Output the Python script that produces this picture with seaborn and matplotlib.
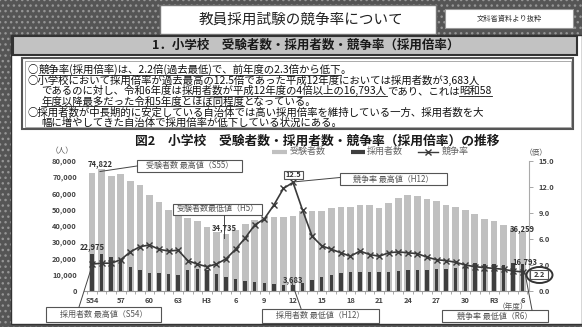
import numpy as np
import pandas as pd
import matplotlib
matplotlib.use("Agg")
import matplotlib.pyplot as plt
from matplotlib.patches import Rectangle, Ellipse
import seaborn as sns

# ---------------- data ----------------
years = (["S%d" % y for y in range(54, 64)] +
         ["H%d" % y for y in range(1, 31)] +
         ["R%d" % y for y in range(1, 7)])
applicants = [72700, 74822, 70500, 71600, 67800, 64800, 59000, 54700, 50000, 46500,
              45000, 43000, 39500, 36500, 34735, 37500, 41000, 43500, 45000, 45400,
              45600, 46156, 49000, 49000, 49400, 50700, 51300, 51700, 52500, 52500,
              51000, 54000, 57000, 58700, 58200, 56500, 55200, 53100, 51600, 50000,
              47000, 44200, 43000, 40400, 38952, 36259]
hired = [22975, 22500, 21000, 19800, 14800, 12600, 10800, 11000, 10200, 9900,
         13000, 13300, 13000, 10300, 8800, 7200, 6200, 5300, 4700, 4200,
         3900, 3683, 4700, 7000, 8600, 9600, 10800, 11900, 11400, 11400,
         11400, 11500, 12200, 12800, 12800, 12900, 13400, 13800, 14300, 14900,
         17000, 16700, 16400, 16200, 17034, 16793]
rate = [3.1, 3.2, 3.2, 3.6, 4.5, 5.1, 5.3, 4.8, 4.6, 4.7,
        3.5, 3.1, 2.8, 3.1, 3.7, 4.8, 6.1, 7.6, 8.3, 9.9,
        11.8, 12.5, 9.3, 6.3, 5.2, 4.8, 4.4, 4.0, 4.6, 4.2,
        4.0, 4.4, 4.5, 4.4, 4.3, 3.9, 3.6, 3.5, 3.3, 3.0,
        2.8, 2.7, 2.6, 2.5, 2.3, 2.2]
tick_labels = ["S54", "57", "60", "63", "H3", "6", "9", "12", "15", "18",
               "21", "24", "27", "30", "R3", "6"]
left_ticks = list(range(0, 80001, 10000))
right_ticks = [0.0, 3.0, 6.0, 9.0, 12.0, 15.0]

df = pd.DataFrame({"year": years, "applicants": applicants, "hired": hired,
                   "rate": rate, "idx": np.arange(len(years))})

# ---------------- figure ----------------
W, H = 582, 327
plt.rcParams["font.family"] = ["Noto Sans CJK JP", "DejaVu Sans"]
plt.rcParams["hatch.linewidth"] = 1.0
fig = plt.figure(figsize=(W / 100, H / 100), dpi=100)

def px_axes(z):
    a = fig.add_axes([0, 0, 1, 1])
    a.set_xlim(0, W)
    a.set_ylim(H, 0)
    a.axis("off")
    a.set_zorder(z)
    return a

bg = px_axes(0)
fg = px_axes(10)

# page background (dotted dark frame)
bg.add_patch(Rectangle((0, 0), W, H, facecolor="#555555", hatch="...",
                       edgecolor="#959595", linewidth=0))
bg.add_patch(Rectangle((11, 35), W - 11, 289, facecolor="white",
                       edgecolor="#333333", linewidth=1.0))
# title boxes
bg.add_patch(Rectangle((160, 4.5), 276, 29.5, facecolor="white",
                       edgecolor="#777777", linewidth=1.0))
bg.add_patch(Rectangle((445, 9), 128, 19, facecolor="white",
                       edgecolor="#999999", linewidth=0.8))
fg.text(301, 20, "教員採用試験の競争率について", fontsize=10.5, ha="center",
        va="center", color="#222222")
fg.text(509, 18.5, "文科省資料より抜粋", fontsize=5.2, ha="center",
        va="center", color="#333333")
# section header
bg.add_patch(Rectangle((13, 36), 564, 19, facecolor="#c2c2c2",
                       edgecolor="#333333", linewidth=1.5))
fg.text(306, 45.5, "1．小学校　受験者数・採用者数・競争率（採用倍率）",
        fontsize=9, fontweight="bold", ha="center", va="center", color="#1a1a1a")

# bullet box
bg.add_patch(Rectangle((22, 58), 551, 71, facecolor="white",
                       edgecolor="#555555", linewidth=1.5))
bg.add_patch(Rectangle((24.5, 60.5), 546, 66, facecolor="none",
                       edgecolor="#888888", linewidth=0.5))

renderer = fig.canvas.get_renderer()

def rich_line(x, yc, pieces, fs=7.5):
    yb = yc + 3.8
    for seg, ul in pieces:
        t = fg.text(x, yb, seg, fontsize=fs, ha="left", va="baseline",
                    color="#111111")
        bb = t.get_window_extent(renderer=renderer)
        x1 = bb.x1
        if ul:
            fg.plot([x, x1], [yb + 1.4, yb + 1.4], color="#111111", lw=0.6)
        x = x1

rich_line(28, 69.5, [("○", False),
                     ("競争率(採用倍率)は、2.2倍(過去最低)で、前年度の2.3倍から低下", True),
                     ("。", False)])
rich_line(28, 80.0, [("○小学校において採用倍率が過去最高の12.5倍であった平成12年度においては採用者数が3,683人", False)])
rich_line(41, 90.5, [("であるのに対し、令和6年度は", False),
                     ("採用者数が平成12年度の4倍以上の16,793人", True),
                     ("であり、これは", False), ("昭和58", True)])
rich_line(41, 101.0, [("年度以降最多だった令和5年度とほぼ同程度", True),
                      ("となっている。", False)])
rich_line(28, 111.5, [("○採用者数が中長期的に安定している自治体では高い採用倍率を維持している一方、採用者数を大", False)])
rich_line(41, 122.0, [("幅に増やしてきた自治体で採用倍率が低下している状況にある。", False)])

# chart title
fg.text(317, 141.5, "図2　小学校　受験者数・採用者数・競争率（採用倍率）の推移",
        fontsize=9.2, fontweight="bold", ha="center", va="center", color="#1a1a1a")

# ---------------- chart ----------------
L, R, T, B = 83.9, 529.0, 160.7, 291.0
ax = fig.add_axes([L / W, (H - B) / H, (R - L) / W, (B - T) / H])
ax.set_zorder(5)
ax.patch.set_alpha(0)

light, dark = "#c0c0c0", "#3f3f3f"
sns.barplot(data=df, x="year", y="applicants", order=years, color=light,
            width=0.7, saturation=1, errorbar=None, linewidth=0, ax=ax)
sns.barplot(data=df, x="year", y="hired", order=years, color=dark,
            width=0.36, saturation=1, errorbar=None, linewidth=0, ax=ax)

ax2 = ax.twinx()
ax2.set_zorder(6)
sns.lineplot(data=df, x="idx", y="rate", ax=ax2, color="#3a3a3a", lw=1.2,
             marker="x", markersize=4.2, markeredgewidth=1.0,
             markeredgecolor="#3a3a3a")

ax.set_xlim(-0.85, 45.66)
ax.set_ylim(0, 80000)
ax2.set_ylim(0, 15)

ax.set_xticks(np.arange(0, len(years), 3))
ax.set_xticklabels(tick_labels)
ax.set_xticks(np.arange(-0.5, len(years), 1), minor=True)
ax.tick_params(axis="x", which="major", length=0, pad=4, labelsize=5.4,
               labelcolor="#444444")
ax.tick_params(axis="x", which="minor", length=2.2, width=0.6, color="#999999")
ax.set_yticks(left_ticks)
ax.set_yticklabels(["{:,}".format(v) for v in left_ticks])
ax.tick_params(axis="y", length=0, pad=5, labelsize=5.4, labelcolor="#444444")
for lab in ax.get_xticklabels() + ax.get_yticklabels():
    lab.set_fontweight("bold")
ax.set_xlabel("")
ax.set_ylabel("")
for s in ["left", "top", "right"]:
    ax.spines[s].set_visible(False)
ax.spines["bottom"].set_color("#999999")
ax.spines["bottom"].set_linewidth(0.8)

ax2.set_yticks(right_ticks)
ax2.set_yticklabels(["%.1f" % v for v in right_ticks])
ax2.tick_params(axis="y", length=3, width=0.6, color="#999999", pad=4,
                labelsize=5.4, labelcolor="#444444")
for lab in ax2.get_yticklabels():
    lab.set_fontweight("bold")
ax2.set_ylabel("")
for s in ["left", "top", "bottom"]:
    ax2.spines[s].set_visible(False)
ax2.spines["right"].set_color("#aaaaaa")
ax2.spines["right"].set_linewidth(0.8)

# legend
ly = 151.5
fg.plot([272, 287], [ly, ly], color=light, lw=3, solid_capstyle="butt")
fg.text(290, ly, "受験者数", fontsize=6.5, va="center", color="#666666")
fg.plot([351, 365], [ly, ly], color=dark, lw=3, solid_capstyle="butt")
fg.text(367, ly, "採用者数", fontsize=6.5, va="center", color="#666666")
fg.plot([418, 438], [ly, ly], color="#3a3a3a", lw=1.0)
fg.plot([428], [ly], marker="x", color="#3a3a3a", markersize=4, mew=1.0)
fg.text(442, ly, "競争率", fontsize=6.5, va="center", color="#666666")
fg.text(62, 151, "（人）", fontsize=5.5, ha="center", va="center", color="#555555")
fg.text(536, 152.5, "（倍）", fontsize=5.5, ha="center", va="center", color="#555555")
fg.text(513, 307, "（年度）", fontsize=5.5, ha="center", va="center", color="#555555")

# value labels
for s, x, y in [("74,822", 88, 164), ("22,975", 80, 246.5), ("34,735", 212, 228),
                ("3,683", 283, 279.5), ("36,259", 510, 229), ("16,793", 512, 262)]:
    fg.text(x, y, s, fontsize=5.5, fontweight="bold", ha="left", va="center",
            color="#333333")

# annotation boxes and leader lines
def box(x0, y0, x1, y1, s, fs=5.8, bold=False, color="#555555"):
    fg.add_patch(Rectangle((x0, y0), x1 - x0, y1 - y0, facecolor="white",
                           edgecolor="#555555", linewidth=0.8))
    fg.text((x0 + x1) / 2, (y0 + y1) / 2, s, fontsize=fs, ha="center",
            va="center", color=color, fontweight="bold" if bold else "normal")

def lead(x0, y0, x1, y1):
    fg.plot([x0, x1], [y0, y1], color="#444444", lw=0.7)

lead(100, 171.5, 137, 166)
lead(224, 214.5, 224, 238)
lead(293, 182, 340, 177.5)
lead(92, 266, 79, 307)
lead(292, 283, 301, 308.5)
lead(525, 273, 532, 310)
box(137, 159.5, 242, 172, "受験者数 最高値（S55）")
box(173, 203.5, 262, 214.5, "受験者数最低値（H5）")
box(284, 170.5, 303, 178.5, "12.5", fs=5.3, bold=True, color="#333333")
box(340, 173, 447, 185, "競争率 最高値（H12）")
box(46, 307, 161, 322, "採用者数 最高値（S54）")
box(262, 308.5, 379, 322.5, "採用者数 最低値（H12）")
box(442, 310, 548, 322, "競争率 最低値（R6）")
box(530, 270, 548, 278.5, "2.2", fs=5.3, bold=True, color="#333333")
fg.add_patch(Ellipse((539.5, 275), 26, 16, facecolor="none",
                     edgecolor="#333333", linewidth=1.4))

fig.savefig("out.png", dpi=100)
